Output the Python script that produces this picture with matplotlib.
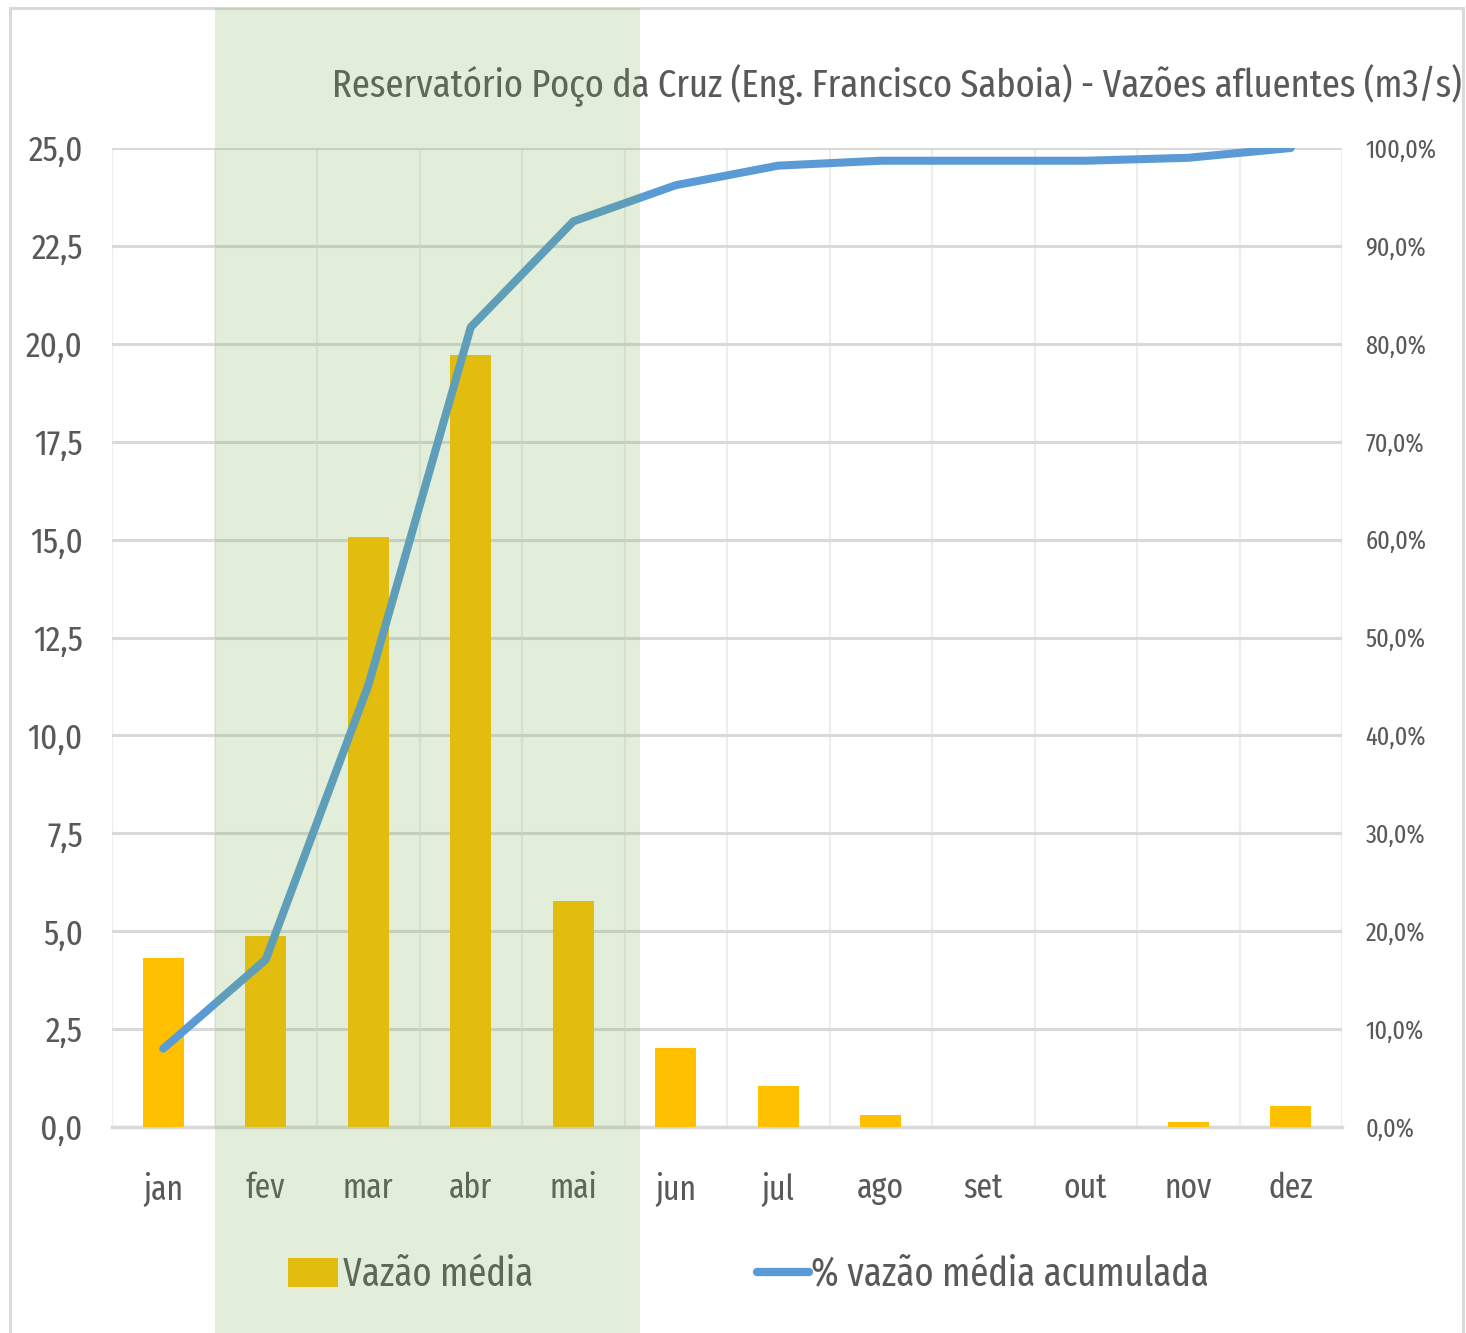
import numpy as np
import matplotlib
matplotlib.use('Agg')
import matplotlib.pyplot as plt
from matplotlib import font_manager
from matplotlib.patches import Rectangle, Patch
from matplotlib.lines import Line2D

# dados
meses = ['jan', 'fev', 'mar', 'abr', 'mai', 'jun', 'jul', 'ago', 'set', 'out', 'nov', 'dez']
vazao_media = [4.32, 4.88, 15.07, 19.71, 5.77, 2.02, 1.05, 0.31, 0.0, 0.0, 0.13, 0.54]
pct_acumulada = [8.0, 17.1, 45.1, 81.7, 92.5, 96.2, 98.2, 98.7, 98.7, 98.7, 99.0, 100.0]
yticks_esq = [0, 2.5, 5, 7.5, 10, 12.5, 15, 17.5, 20, 22.5, 25]
yticks_dir = [0, 10, 20, 30, 40, 50, 60, 70, 80, 90, 100]

titulo = 'Reservatório Poço da Cruz (Eng. Francisco Saboia) - Vazões afluentes (m3/s)'
legenda = ['Vazão média', '% vazão média acumulada']

# fonte estreita (parecida com Calibri comprimida)
nomes = {f.name for f in font_manager.fontManager.ttflist}
fonte = 'DejaVu Sans'
for nome in ['Fira Sans Extra Condensed', 'Open Sans Condensed', 'Archivo Narrow',
             'Barlow Semi Condensed', 'Liberation Sans Narrow']:
    if nome in nomes:
        fonte = nome
        break
plt.rcParams['font.family'] = [fonte, 'DejaVu Sans']

cinza = '#595959'
fig = plt.figure(figsize=(14.66, 13.33), dpi=100)
r = fig.canvas.get_renderer()


def tamanho(texto, largura_px):
    # tamanho de fonte para o texto ocupar a largura pedida
    t = fig.text(0, 0, texto, fontsize=10)
    w = t.get_window_extent(r).width
    t.remove()
    return 10 * largura_px / w


fs_titulo = tamanho(titulo, 1134)
fs_esq = tamanho('25,0', 54)
fs_dir = tamanho('100,0%', 71)
fs_mes = tamanho('ago', 47)
fs_leg = tamanho(legenda[1], 400)

ax = fig.add_axes([112/1466, 1-1127/1333, 1230/1466, 979/1333])
ax2 = ax.twinx()

x = np.arange(len(meses))
ax.bar(x, vazao_media, width=0.4, color='#FFC000', zorder=3)
ax.set_xlim(-0.5, len(meses)-0.5)
ax.set_ylim(0, 25)
ax.set_yticks(yticks_esq)
ax.set_yticklabels([f'{v:.1f}'.replace('.', ',') for v in yticks_esq])
ax.set_xticks(x)
ax.set_xticklabels(meses)
ax.set_xticks(np.arange(-0.5, len(meses), 0.5), minor=True)

# grades
ax.grid(axis='y', color='#D9D9D9', linewidth=2.2, zorder=1)
ax.grid(axis='x', which='minor', color='#EDEDED', linewidth=1.5, zorder=0)
ax.grid(axis='x', which='major', visible=False)
ax.set_axisbelow(True)

ax.tick_params(axis='y', length=0, pad=21, labelsize=fs_esq, labelcolor=cinza)
ax.tick_params(axis='x', which='both', length=0, pad=32, labelsize=fs_mes, labelcolor=cinza)
for s in ax.spines.values():
    s.set_visible(False)
ax.spines['bottom'].set_visible(True)
ax.spines['bottom'].set_color('#D9D9D9')
ax.spines['bottom'].set_linewidth(2.5)

ax2.plot(x, pct_acumulada, color='#5B9BD5', linewidth=5.8, solid_capstyle='round',
         solid_joinstyle='round', zorder=4)
ax2.set_ylim(0, 100)
ax2.set_yticks(yticks_dir)
ax2.set_yticklabels([f'{v:.1f}%'.replace('.', ',') for v in yticks_dir])
ax2.tick_params(axis='y', length=0, pad=17, labelsize=fs_dir, labelcolor=cinza)
for s in ax2.spines.values():
    s.set_visible(False)

fig.text(1462/1466, 1-97/1333, titulo, ha='right', va='baseline',
         fontsize=fs_titulo, color=cinza)

# legenda: duas entradas posicionadas separadamente
fpx = fs_leg * 100 / 72
y_leg = 1 - 1275/1333
fig.legend([Patch(facecolor='#FFC000', edgecolor='none')], [legenda[0]],
           loc='center left', bbox_to_anchor=(288/1466, y_leg), frameon=False,
           fontsize=fs_leg, labelcolor=cinza, handlelength=50/fpx, handleheight=30/fpx,
           handletextpad=0.12, borderpad=0, borderaxespad=0)
fig.legend([Line2D([0], [0], color='#5B9BD5', linewidth=6, solid_capstyle='round')],
           [legenda[1]], loc='center left', bbox_to_anchor=(757/1466, y_leg),
           frameon=False, fontsize=fs_leg, labelcolor=cinza, handlelength=52/fpx,
           handletextpad=0.05, borderpad=0, borderaxespad=0)

# moldura
fig.patches.append(Rectangle((10/1466, -0.01), 1453/1466, 1-8/1333+0.01,
                             transform=fig.transFigure, fill=False,
                             edgecolor='#D9D9D9', linewidth=2.2, zorder=0))
# faixa verde do período chuvoso
fig.patches.append(Rectangle((215/1466, 0), 425/1466, 1-8/1333,
                             transform=fig.transFigure, facecolor='#70AD47',
                             alpha=0.2, edgecolor='none', zorder=10))

fig.savefig('out.png', dpi=100)
